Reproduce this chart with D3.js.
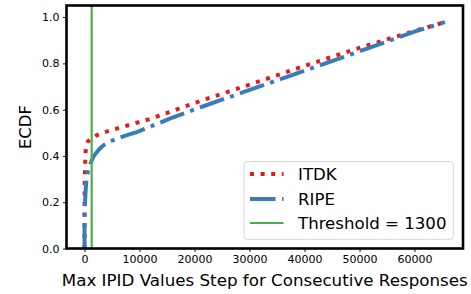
<!DOCTYPE html>
<html>
<head>
<meta charset="utf-8">
<script src="https://cdn.jsdelivr.net/npm/d3@7/dist/d3.min.js"></script>
<style>
  html, body { margin: 0; padding: 0; background: #fff; }
  svg { display: block; font-family: "DejaVu Sans", sans-serif; }
</style>
</head>
<body>
<svg id="chart" width="471" height="294"></svg>
<script>
// ---- data ----
const itdkX = [0, 0, 50, 100, 150, 250, 600, 1300, 2000, 3300, 5000, 7000, 9000, 12000, 20000, 30000, 40000, 50000, 60000, 65535];
const itdkY = [0, 0.20, 0.30, 0.35, 0.40, 0.44, 0.462, 0.478, 0.487, 0.50, 0.512, 0.526, 0.54, 0.56, 0.629, 0.708, 0.789, 0.867, 0.94, 0.978];

const ripeX = [0, 0, 100, 200, 400, 700, 1000, 1300, 1600, 2000, 2800, 3500, 4600, 6000, 7700, 9500, 12000, 15500, 20000, 30000, 40000, 50000, 60000, 65535];
const ripeY = [0, 0.17, 0.20, 0.25, 0.31, 0.34, 0.36, 0.38, 0.396, 0.41, 0.432, 0.447, 0.462, 0.476, 0.49, 0.503, 0.527, 0.561, 0.601, 0.685, 0.768, 0.852, 0.937, 0.978];

const threshold = 1300;
const xTicks = [0, 10000, 20000, 30000, 40000, 50000, 60000];
const yTicks = [0.0, 0.2, 0.4, 0.6, 0.8, 1.0];
const seriesNames = ["ITDK", "RIPE", "Threshold = 1300"];

// ---- layout ----
const svg = d3.select("#chart");
const L = 66.5, R = 463, T = 5.5, B = 248.5;
const x = d3.scaleLinear().domain([-3277, 68812]).range([L, R]);
const y = d3.scaleLinear().domain([0, 1.05]).range([B, T]);

const red = "#e41a1c", blue = "#377eb8", green = "#4daf4a";

const line = d3.line().x(d => x(d[0])).y(d => y(d[1]));
const itdk = d3.zip(itdkX, itdkY);
const ripe = d3.zip(ripeX, ripeY);

svg.append("clipPath").attr("id", "clip")
  .append("rect").attr("x", L).attr("y", T).attr("width", R - L).attr("height", B - T);

const plot = svg.append("g").attr("clip-path", "url(#clip)");

plot.append("path").datum(itdk).attr("d", line)
  .attr("fill", "none").attr("stroke", red).attr("stroke-width", 4)
  .attr("stroke-dasharray", "4,6.6");

plot.append("path").datum(ripe).attr("d", line)
  .attr("fill", "none").attr("stroke", blue).attr("stroke-width", 4)
  .attr("stroke-dasharray", "25.6,6.4,4,6.4");

plot.append("line")
  .attr("x1", x(threshold)).attr("x2", x(threshold))
  .attr("y1", B).attr("y2", T)
  .attr("stroke", green).attr("stroke-width", 2.2);

// ---- axes ----
const xAxis = d3.axisBottom(x).tickValues(xTicks).tickSize(3.5).tickPadding(3.5).tickFormat(d3.format("d"));
const yAxis = d3.axisLeft(y).tickValues(yTicks).tickSize(3.5).tickPadding(3.5).tickFormat(d3.format(".1f"));

const gx = svg.append("g").attr("transform", `translate(0,${B})`).call(xAxis);
const gy = svg.append("g").attr("transform", `translate(${L},0)`).call(yAxis);
[gx, gy].forEach(g => {
  g.select(".domain").remove();
  g.selectAll(".tick line").attr("stroke", "#000").attr("stroke-width", 0.9);
  g.selectAll(".tick text").attr("font-size", 11).attr("fill", "#000")
    .attr("font-family", "DejaVu Sans, sans-serif");
});

// frame
svg.append("rect").attr("x", L).attr("y", T).attr("width", R - L).attr("height", B - T)
  .attr("fill", "none").attr("stroke", "#000").attr("stroke-width", 2.6);

// axis labels
svg.append("text").attr("x", (L + R) / 2).attr("y", 285.5)
  .attr("text-anchor", "middle").attr("font-size", 16.7).attr("fill", "#000")
  .text("Max IPID Values Step for Consecutive Responses");

svg.append("text")
  .attr("transform", `translate(30.5,${(T + B) / 2}) rotate(-90)`)
  .attr("text-anchor", "middle").attr("font-size", 16.5).attr("fill", "#000")
  .text("ECDF");

// ---- legend ----
const lg = svg.append("g");
lg.append("rect").attr("x", 244).attr("y", 161.7).attr("width", 209.3).attr("height", 77.6)
  .attr("rx", 3).attr("fill", "#fff").attr("fill-opacity", 0.8)
  .attr("stroke", "#d6d6d6").attr("stroke-width", 1);

const rowsY = [174, 199, 223];
const styles = [
  { c: red, w: 4, dash: "4,6.6" },
  { c: blue, w: 4, dash: "25.6,6.4,4,6.4" },
  { c: green, w: 2.2, dash: null }
];
seriesNames.forEach((name, i) => {
  const s = styles[i];
  const l = lg.append("line").attr("x1", 250).attr("x2", 283.5)
    .attr("y1", rowsY[i]).attr("y2", rowsY[i])
    .attr("stroke", s.c).attr("stroke-width", s.w);
  if (s.dash) l.attr("stroke-dasharray", s.dash);
  lg.append("text").attr("x", 298).attr("y", rowsY[i] + 6)
    .attr("font-size", 16.6).attr("fill", "#000").text(name);
});
</script>
</body>
</html>
